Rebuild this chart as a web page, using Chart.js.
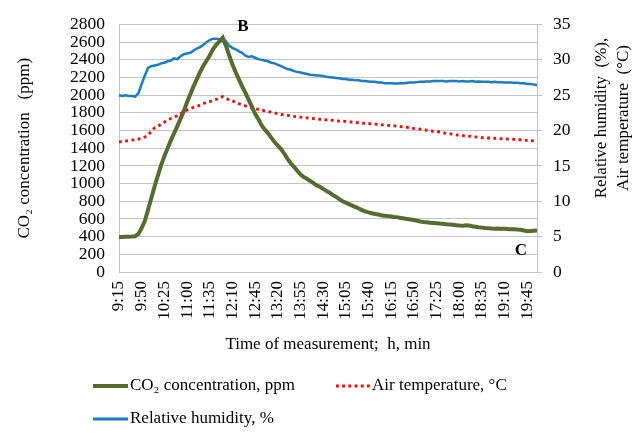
<!DOCTYPE html>
<html>
<head>
<meta charset="utf-8">
<script src="https://cdn.jsdelivr.net/npm/chart.js@4.4.0/dist/chart.umd.min.js"></script>
<style>
  html, body { margin: 0; padding: 0; background: #fff; }
  #wrap { position: relative; width: 643px; height: 433px; }
</style>
</head>
<body>
<div id="wrap"><canvas id="myChart" width="643" height="433"></canvas></div>
<script>
// measurements every 5 min, 9:15 .. 20:00
const startMin = 9 * 60 + 15
const stepMin = 5
const tickLabels = ['9:15', '9:50', '10:25', '11:00', '11:35', '12:10', '12:45', '13:20', '13:55', '14:30',
    '15:05', '15:40', '16:15', '16:50', '17:25', '18:00', '18:35', '19:10', '19:45']

const co2 = [
    395, 395, 398, 400, 402, 405, 430, 500, 580, 710,
    840, 970, 1090, 1210, 1310, 1400, 1490, 1570, 1650, 1735,
    1820, 1920, 2010, 2100, 2180, 2260, 2330, 2390, 2450, 2520,
    2570, 2610, 2650, 2560, 2450, 2350, 2260, 2180, 2100, 2030,
    1950, 1870, 1790, 1730, 1660, 1610, 1570, 1520, 1470, 1430,
    1390, 1340, 1280, 1230, 1190, 1145, 1105, 1075, 1055, 1030,
    1005, 980, 965, 940, 918, 897, 870, 850, 825, 800,
    785, 768, 750, 735, 718, 700, 686, 675, 665, 657,
    650, 643, 637, 632, 627, 622, 618, 612, 606, 600,
    594, 588, 580, 572, 566, 562, 558, 555, 552, 548,
    545, 540, 536, 534, 530, 525, 522, 528, 525, 518,
    512, 506, 502, 498, 495, 492, 490, 492, 488, 490,
    487, 485, 483, 480, 478, 470, 462, 465, 468, 470
]

const airTemp = [
    18.4, 18.45, 18.5, 18.6, 18.65, 18.7, 18.8, 18.9, 19.1, 19.4,
    19.9, 20.4, 20.6, 20.9, 21.2, 21.5, 21.7, 21.9, 22.1, 22.4,
    22.7, 22.9, 23.1, 23.3, 23.4, 23.6, 23.8, 24.0, 24.1, 24.3,
    24.4, 24.6, 24.8, 24.6, 24.3, 24.2, 24.0, 23.8, 23.6, 23.5,
    23.3, 23.2, 23.1, 23.0, 22.9, 22.8, 22.7, 22.6, 22.5, 22.4,
    22.3, 22.2, 22.15, 22.1, 22.0, 21.95, 21.9, 21.85, 21.8, 21.75,
    21.7, 21.65, 21.6, 21.55, 21.5, 21.5, 21.45, 21.4, 21.35, 21.3,
    21.3, 21.25, 21.2, 21.15, 21.1, 21.05, 21.0, 21.0, 20.95, 20.9,
    20.85, 20.8, 20.8, 20.75, 20.7, 20.65, 20.6, 20.55, 20.5, 20.45,
    20.4, 20.3, 20.25, 20.2, 20.1, 20.05, 20.0, 19.9, 19.85, 19.8,
    19.7, 19.6, 19.55, 19.5, 19.4, 19.35, 19.3, 19.25, 19.2, 19.15,
    19.1, 19.05, 19.0, 19.0, 18.95, 18.95, 18.9, 18.9, 18.85, 18.85,
    18.8, 18.8, 18.75, 18.7, 18.7, 18.65, 18.6, 18.6, 18.55, 18.5
]

const humidity = [
    25.0, 24.9, 25.0, 24.9, 24.9, 24.8, 25.3, 26.6, 27.8, 28.9,
    29.1, 29.2, 29.3, 29.5, 29.6, 29.8, 29.9, 30.2, 30.1, 30.5,
    30.8, 30.9, 31.0, 31.3, 31.6, 31.8, 32.1, 32.5, 32.8, 33.0,
    33.0, 32.9, 33.0, 32.6, 32.0, 31.7, 31.5, 31.2, 31.0, 30.6,
    30.4, 30.5, 30.3, 30.1, 30.0, 29.9, 29.8, 29.6, 29.5, 29.3,
    29.1, 28.9, 28.7, 28.6, 28.4, 28.3, 28.2, 28.1, 28.0, 27.9,
    27.85, 27.8, 27.8, 27.7, 27.6, 27.55, 27.5, 27.45, 27.4, 27.3,
    27.3, 27.2, 27.2, 27.1, 27.1, 27.0, 27.0, 26.95, 26.9, 26.9,
    26.8, 26.8, 26.7, 26.7, 26.7, 26.65, 26.65, 26.7, 26.7, 26.75,
    26.8, 26.8, 26.85, 26.9, 26.9, 26.95, 26.95, 27.0, 27.0, 27.0,
    27.0, 26.95, 27.0, 27.0, 27.0, 26.95, 27.0, 26.95, 26.95, 27.0,
    26.9, 26.95, 26.9, 26.9, 26.9, 26.85, 26.9, 26.85, 26.85, 26.8,
    26.8, 26.8, 26.75, 26.75, 26.7, 26.7, 26.6, 26.6, 26.5, 26.45
]

const co2Label = 'CO₂ concentration, ppm'
const tempLabel = 'Air temperature, °C'
const humLabel = 'Relative humidity, %'

const green = '#566b2f'
const red = '#ff0000'
const blue = '#1b7bc4'
const gridGrey = '#c4c4c4'
const serif = "'Liberation Serif', 'Times New Roman', serif"

let times = []
for (let i = 0; i < co2.length; i++) {
    let m = startMin + i * stepMin
    times.push(Math.floor(m / 60) + ':' + String(m % 60).padStart(2, '0'))
}

// right title, B / C marks and the legend drawn on the canvas
const extras = {
    id: 'extras',
    afterDraw(chart) {
        const ctx = chart.ctx
        ctx.save()
        ctx.fillStyle = '#000'
        ctx.textBaseline = 'middle'

        // right axis title (two lines, reading upward)
        ctx.font = '17px ' + serif
        ctx.textAlign = 'center'
        ctx.save()
        ctx.translate(602, 118)
        ctx.rotate(-Math.PI / 2)
        ctx.fillText('Relative humidity  (%),', 0, 0)
        ctx.restore()
        ctx.save()
        ctx.translate(624, 118)
        ctx.rotate(-Math.PI / 2)
        ctx.fillText('Air temperature  (°C)', 0, 0)
        ctx.restore()

        // B and C marks
        ctx.font = 'bold 17px ' + serif
        ctx.fillText('B', 243, 27)
        ctx.fillText('C', 521, 251)

        // legend
        ctx.font = '17px ' + serif
        ctx.textAlign = 'left'
        ctx.lineCap = 'butt'

        ctx.strokeStyle = green
        ctx.lineWidth = 4
        ctx.beginPath(); ctx.moveTo(93, 386); ctx.lineTo(128, 386); ctx.stroke()
        ctx.fillText(co2Label, 130, 386)

        ctx.strokeStyle = red
        ctx.lineWidth = 2.8
        ctx.setLineDash([2.8, 3.4])
        ctx.beginPath(); ctx.moveTo(336, 386); ctx.lineTo(370, 386); ctx.stroke()
        ctx.setLineDash([])
        ctx.fillText(tempLabel, 372, 386)

        ctx.strokeStyle = blue
        ctx.lineWidth = 3
        ctx.beginPath(); ctx.moveTo(93, 419); ctx.lineTo(128, 419); ctx.stroke()
        ctx.fillText(humLabel, 130, 419)

        ctx.restore()
    }
}

let myChart = document.getElementById('myChart')

const lineChart = new Chart(myChart, {
    type: 'line',
    data: {
        labels: times,
        datasets: [{
            label: co2Label,
            data: co2,
            yAxisID: 'y',
            borderColor: green,
            borderWidth: 4,
            pointRadius: 0,
            tension: 0
        }, {
            label: tempLabel,
            data: airTemp,
            yAxisID: 'y1',
            borderColor: red,
            borderWidth: 2.8,
            borderDash: [2.8, 3.5],
            pointRadius: 0,
            tension: 0
        }, {
            label: humLabel,
            data: humidity,
            yAxisID: 'y1',
            borderColor: blue,
            borderWidth: 2.5,
            pointRadius: 0,
            tension: 0
        }]
    },
    options: {
        responsive: false,
        animation: false,
        layout: {
            padding: { top: 15, left: 0, right: 0, bottom: 70 }
        },
        plugins: {
            legend: { display: false },
            tooltip: { enabled: false }
        },
        scales: {
            x: {
                type: 'category',
                offset: false,
                grid: { display: false, drawTicks: false },
                border: { display: true, color: gridGrey },
                ticks: {
                    autoSkip: false,
                    maxRotation: 90,
                    minRotation: 90,
                    padding: 9,
                    color: '#000',
                    font: { family: serif, size: 17 },
                    callback: function (val, idx) {
                        return tickLabels.includes(times[idx]) ? times[idx] : ''
                    }
                },
                title: {
                    display: true,
                    text: 'Time of measurement;  h, min',
                    color: '#000',
                    font: { family: serif, size: 17 },
                    padding: { top: 0, bottom: 8 }
                },
                afterFit: function (scale) { scale.height = 91 }
            },
            y: {
                position: 'left',
                min: 0,
                max: 2800,
                grid: { color: gridGrey, drawTicks: false },
                border: { color: gridGrey },
                ticks: {
                    stepSize: 200,
                    autoSkip: false,
                    padding: 14,
                    color: '#000',
                    font: { family: serif, size: 17.5 },
                    callback: function (val) { return String(val) }
                },
                title: {
                    display: true,
                    text: 'CO₂ concentration   (ppm)',
                    color: '#000',
                    font: { family: serif, size: 17 },
                    padding: { top: 14, bottom: 0 }
                },
                afterFit: function (scale) { scale.width = 119 }
            },
            y1: {
                position: 'right',
                min: 0,
                max: 35,
                grid: { drawOnChartArea: false, color: gridGrey, tickLength: 5 },
                border: { color: gridGrey },
                ticks: {
                    stepSize: 5,
                    autoSkip: false,
                    padding: 11,
                    color: '#000',
                    font: { family: serif, size: 17.5 }
                },
                afterFit: function (scale) { scale.width = 106 }
            }
        }
    },
    plugins: [extras]
})
</script>
</body>
</html>
